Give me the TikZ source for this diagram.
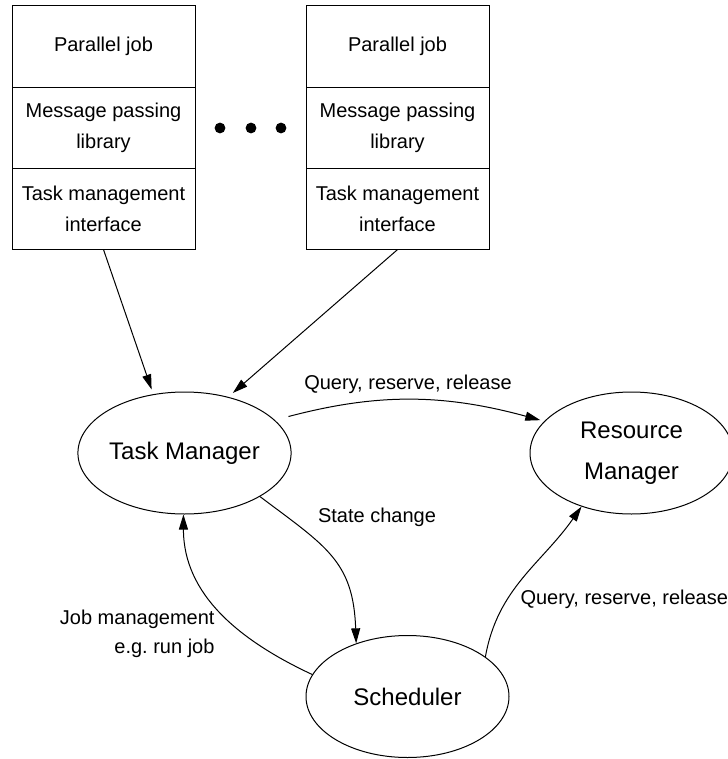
\documentclass[tikz,border=0pt]{standalone}
\usepackage{fontspec}
\setmainfont{Liberation Sans}
\usepackage{tikz}
\usetikzlibrary{shapes.geometric,arrows.meta,positioning}

\tikzset{
	layer/.style={shape=rectangle,draw=black,outer sep=0pt,inner sep=0pt,minimum width=91.5pt,minimum height=40.6pt,align=center,font=\fontsize{10}{15.5}\selectfont},
	proc/.style={shape=ellipse,draw=black,inner sep=0pt,minimum width=101.5pt,minimum height=61pt,align=center,font=\fontsize{12}{20.5}\selectfont},
	lbl/.style={inner sep=0pt,font=\fontsize{10}{14.5}\selectfont}
}

\begin{document}
\begin{tikzpicture}[x=0.5pt,y=-0.5pt,line width=0.5pt,>={Triangle[length=7.5pt,width=4.5pt]}]
	
	\useasboundingbox (0,0) rectangle (727,759);
	
	\node[layer] (job1) at (103.5,46.6)     {Parallel job};
	\node[layer,below=0pt of job1] (mpl1)   {Message passing\\library};
	\node[layer,below=0pt of mpl1] (tmi1)   {Task management\\interface};
	
	\node[layer] (job2) at (397.5,46.6)     {Parallel job};
	\node[layer,below=0pt of job2] (mpl2)   {Message passing\\library};
	\node[layer,below=0pt of mpl2] (tmi2)   {Task management\\interface};
	
	\foreach \x in {220,251,281}
		\fill (\x,128) circle (2.7pt);
	
	\node[proc] (tm) at (184.5,453)      {Task Manager};
	\node[proc] (rm) at (631.5,453)      {Resource\\Manager};
	\node[proc] (sched) at (407.5,696.5) {Scheduler};
	
	\node[lbl] (qr1) at (408,384) {Query, reserve, release};
	\node[lbl] (sc) at (377,517) {State change};
	\node[lbl,anchor=east,align=right] (jm) at (215,634) {Job management\\e.g.\ run job};
	\node[lbl,anchor=west] (qr2) at (520,599) {Query, reserve, release};
	
	\draw[->,shorten >=2.5pt] (tmi1.south) -- (tm.118);
	\draw[->,shorten >=3pt] (tmi2.south) -- (tm.52);
	\draw[->,shorten <=7pt,shorten >=2pt] (tm.20) to[bend left=15] (rm.160);
	\draw[->] (tm.-30) to[out=-37,in=92,looseness=1.2] (sched.134);
	\draw[->] (sched.167) to[out=155,in=-90] (tm.-91);
	\draw[->] (sched.27) to[out=80,in=-125] (rm.-133);
	
\end{tikzpicture}
\end{document}
